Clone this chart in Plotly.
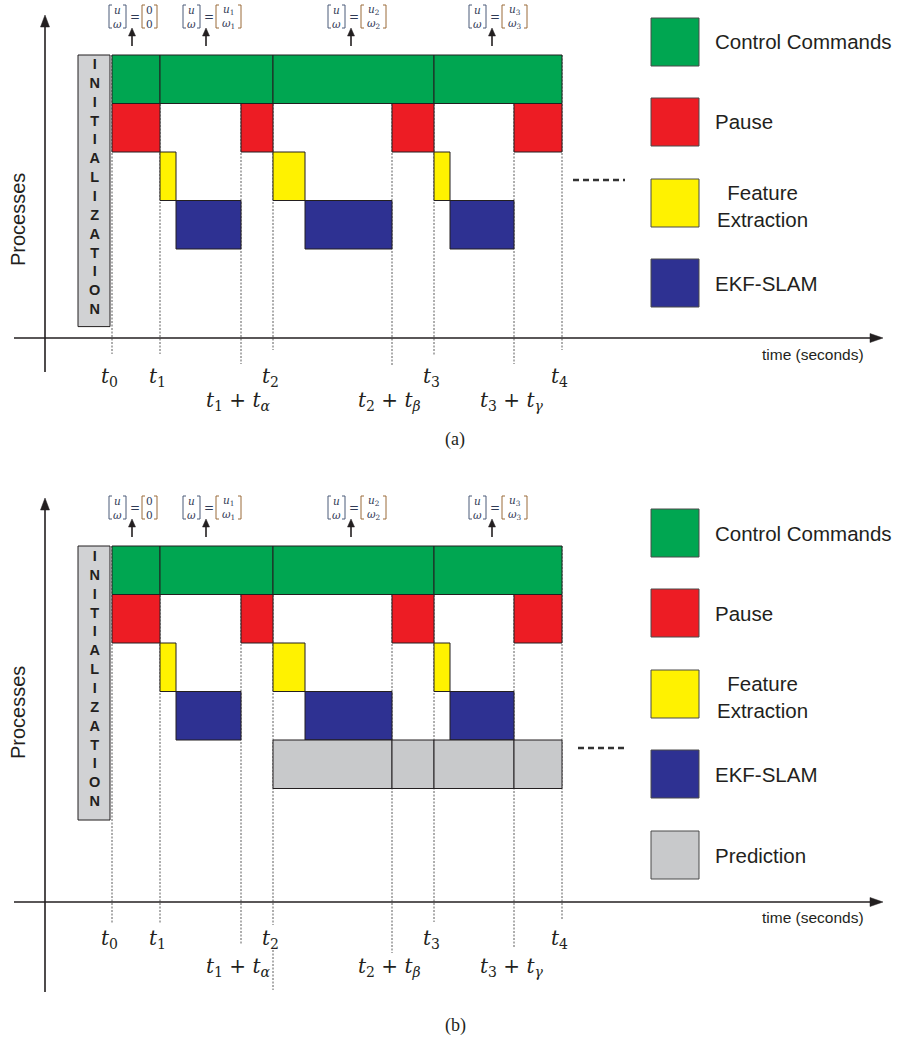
import plotly.graph_objects as go

W, H = 903, 1043

# ---- timeline (arbitrary time units) ----
mark_names = ["t0", "t1", "t1+ta", "t2", "t2+tb", "t3", "t3+tg", "t4"]
mark_times = [0.0, 4.8, 12.9, 16.1, 28.0, 32.2, 40.2, 45.0]
mark_labels = [
    "<i>t</i><sub>0</sub>", "<i>t</i><sub>1</sub>",
    "<i>t</i><sub>1</sub> + <i>t</i><sub><i>α</i></sub>",
    "<i>t</i><sub>2</sub>",
    "<i>t</i><sub>2</sub> + <i>t</i><sub><i>β</i></sub>",
    "<i>t</i><sub>3</sub>",
    "<i>t</i><sub>3</sub> + <i>t</i><sub><i>γ</i></sub>",
    "<i>t</i><sub>4</sub>",
]
mark_lower = [False, False, True, False, True, False, True, False]

# ---- process schedules (start, end) ----
control_start = [0.0, 4.8, 16.1, 32.2]
control_end = [4.8, 16.1, 32.2, 45.0]
pause_start = [0.0, 12.9, 28.0, 40.2]
pause_end = [4.8, 16.1, 32.2, 45.0]
feature_start = [4.8, 16.1, 32.2]
feature_end = [6.4, 19.3, 33.8]
ekf_start = [6.4, 19.3, 33.8]
ekf_end = [12.9, 28.0, 40.2]
prediction_start = [16.1, 28.0, 32.2, 40.2]
prediction_end = [28.0, 32.2, 40.2, 45.0]
init_start, init_end = -3.4, -0.2

# control command updates
command_times = [2.0, 9.4, 23.9, 38.0]
command_values = [("0", "0"), ("<i>u</i><sub>1</sub>", "<i>ω</i><sub>1</sub>"),
                  ("<i>u</i><sub>2</sub>", "<i>ω</i><sub>2</sub>"),
                  ("<i>u</i><sub>3</sub>", "<i>ω</i><sub>3</sub>")]

legend_a = ["Control Commands", "Pause", "Feature<br>Extraction", "EKF-SLAM"]
legend_b = ["Control Commands", "Pause", "Feature<br>Extraction", "EKF-SLAM", "Prediction"]

GREEN, RED, YELLOW, BLUE, GREY = "#00A651", "#ED1C24", "#FFF200", "#2E3192", "#C8C9CB"
EDGE = "#231F20"
colors_b = [GREEN, RED, YELLOW, BLUE, GREY]

# ---- geometry ----
PX0, PX_PER_UNIT = 112.0, 10.0          # x position of t0 and scale
ROW_H = 48.5
PANEL_TOP = {"y": 55.0, "y2": 546.0}    # top of the first row per panel
PANEL_DY = {"y": 0.0, "y2": 491.0}      # vertical offset of panel (b)


def xu(px):
    return (px - PX0) / PX_PER_UNIT


def pxx(t):
    return PX0 + t * PX_PER_UNIT


def py(pix):
    return 1 - pix / H


def yrange(top):
    v = lambda p: (p - top) / ROW_H - 0.5
    return [v(H), v(0)]


fig = go.Figure()


def add_rows(axis, starts, ends, row, color):
    fig.add_trace(go.Bar(
        orientation="h", base=starts, x=[e - s for s, e in zip(starts, ends)],
        y=[row] * len(starts), width=1, yaxis=axis,
        marker=dict(color=color, line=dict(color=EDGE, width=1)),
        hoverinfo="skip"))


for axis, with_pred in (("y", False), ("y2", True)):
    add_rows(axis, control_start, control_end, 0, GREEN)
    add_rows(axis, pause_start, pause_end, 1, RED)
    add_rows(axis, feature_start, feature_end, 2, YELLOW)
    add_rows(axis, ekf_start, ekf_end, 3, BLUE)
    if with_pred:
        add_rows(axis, prediction_start, prediction_end, 4, GREY)
    span = 5.6 if axis == "y" else 5.65
    fig.add_trace(go.Bar(
        orientation="h", base=[init_start], x=[init_end - init_start],
        y=[-0.5 + span / 2], width=[span], yaxis=axis,
        marker=dict(color="#D1D2D4", line=dict(color=EDGE, width=1)),
        hoverinfo="skip"))

shapes, annos = [], []


def line(x0, y0, x1, y1, xref="paper", color=EDGE, width=1.6, dash=None, layer="above"):
    d = dict(type="line", xref=xref, yref="paper", x0=x0, y0=y0, x1=x1, y1=y1,
             line=dict(color=color, width=width), layer=layer)
    if dash:
        d["line"]["dash"] = dash
    shapes.append(d)


def tri(points, xref="paper"):
    path = "M " + " L ".join(f"{x},{y}" for x, y in points) + " Z"
    shapes.append(dict(type="path", xref=xref, yref="paper", path=path,
                       fillcolor=EDGE, line=dict(color=EDGE, width=0.5)))


def text(x, y, s, size, family="Liberation Sans, Arial", color=EDGE, xref="paper",
         xanchor="center", angle=0, weight=None):
    font = dict(size=size, family=family, color=color)
    if weight:
        font["weight"] = weight
    annos.append(dict(x=x, y=y, xref=xref, yref="paper", text=s, showarrow=False,
                      xanchor=xanchor, yanchor="middle", textangle=angle,
                      borderpad=0, font=font))


panels = {
    "y": dict(axis_y=338, yax_bot=372, yax_top=15, line_ends=[354, 354, 364, 350, 366, 355, 364, 350],
              lab_up=377, lab_low=401, caption=440, proc=220, dashes=(573, 625, 180),
              legend_top=[18, 98, 179, 259], legend=legend_a, time_y=354),
    "y2": dict(axis_y=902, yax_bot=992, yax_top=498, line_ends=[923, 923, 945, 925, 953, 922, 947, 920],
               lab_up=939, lab_low=967, caption=1025, proc=713, dashes=(578, 628, 748),
               legend_top=[509, 589, 670, 750, 831], legend=legend_b, time_y=917),
}

for axis, P in panels.items():
    top = PANEL_TOP[axis]
    dy = PANEL_DY[axis]
    # axes with arrowheads
    ay = P["axis_y"]
    line(14 / W, py(ay), 872 / W, py(ay))
    tri([(870 / W, py(ay - 4.5)), (883 / W, py(ay)), (870 / W, py(ay + 4.5))])
    line(45 / W, py(P["yax_bot"]), 45 / W, py(P["yax_top"] + 10))
    tri([(40.5 / W, py(P["yax_top"] + 12)), (45 / W, py(P["yax_top"])), (49.5 / W, py(P["yax_top"] + 12))])
    text(865 / W, py(P["time_y"]), "time (seconds)", 15.5, xanchor="right")
    text(18 / W, py(P["proc"]), "Processes", 20, angle=-90)
    text(455 / W, py(P["caption"]), "(a)" if axis == "y" else "(b)", 18,
         family="Liberation Serif, serif")

    # dashed time markers
    for t, end, lab, low in zip(mark_times, P["line_ends"], mark_labels, mark_lower):
        line(t, py(top), t, py(end), xref="x", color="#333", width=0.8, dash="2px,1.5px", layer="below")
        if axis == "y2" and lab == "<i>t</i><sub>2</sub>":
            line(t, py(950), t, py(990), xref="x", color="#333", width=0.8, dash="2px,1.5px", layer="below")
        ly = P["lab_low"] if low else P["lab_up"]
        text(t - 0.25, py(ly), lab, 20, family="DejaVu Serif, serif", xref="x")

    # INITIALIZATION lettering
    text(xu(94), py(top + 131 if axis == "y" else top + 132), "<br>".join("INITIALIZATION"), 14.5,
         family="Liberation Sans, Arial", xref="x", weight="bold")

    # command updates with arrows
    for t, (v1, v2) in zip(command_times, command_values):
        a = pxx(t)
        tri([(xu(a - 3.5), py(dy + 36)), (xu(a), py(dy + 28)), (xu(a + 3.5), py(dy + 36))], xref="x")
        line(t, py(dy + 46), t, py(dy + 34), xref="x", width=1.6)
        e = a + 3
        wide = v1 != "0"
        mats = [(e - 26, e - 9, "<i>u</i>", "<i>ω</i>", "#4a5a78"),
                (e + 7, e + (32 if wide else 22), v1, v2, "#9a6a38")]
        for lx, rx, c1, c2, bc in mats:
            yt, yb = dy + 5, dy + 28
            for bx, sgn in ((lx, 1), (rx, -1)):
                path = (f"M {xu(bx + 3 * sgn)},{py(yt)} L {xu(bx)},{py(yt)} "
                        f"L {xu(bx)},{py(yb)} L {xu(bx + 3 * sgn)},{py(yb)}")
                shapes.append(dict(type="path", xref="x", yref="paper", path=path,
                                   line=dict(color=bc, width=1)))
            cx = (lx + rx) / 2
            text(xu(cx), py(dy + 16.5), c1 + "<br>" + c2, 10.5, family="DejaVu Serif, serif",
                 color="#2f3a55", xref="x")
        text(xu(e), py(dy + 16.5), "=", 12, family="DejaVu Serif, serif", color="#2f3a55", xref="x")

    # continuation dashes
    x0d, x1d, yd = P["dashes"]
    line(x0d / W, py(yd), x1d / W, py(yd), color="#333", width=2.4, dash="6px,4px")

    # legend
    for i, (ytop, lab) in enumerate(zip(P["legend_top"], P["legend"])):
        shapes.append(dict(type="rect", xref="paper", yref="paper", x0=651 / W, x1=699 / W,
                           y0=py(ytop + 48), y1=py(ytop), fillcolor=colors_b[i],
                           line=dict(color="#4a4a4a", width=1)))
        if "<br>" in lab:
            text(762 / W, py(ytop + 27), lab, 20.5)
        else:
            text(714 / W, py(ytop + 24), lab, 20.5, xanchor="left")

fig.update_layout(
    width=W, height=H, autosize=False, margin=dict(l=0, r=0, t=0, b=0),
    paper_bgcolor="white", plot_bgcolor="white", showlegend=False, barmode="overlay",
    xaxis=dict(range=[xu(0), xu(W)], visible=False, fixedrange=True),
    yaxis=dict(range=yrange(PANEL_TOP["y"]), visible=False, fixedrange=True),
    yaxis2=dict(range=yrange(PANEL_TOP["y2"]), visible=False, fixedrange=True, overlaying="y"),
    shapes=shapes, annotations=annos,
)

fig.write_html("out.html")
